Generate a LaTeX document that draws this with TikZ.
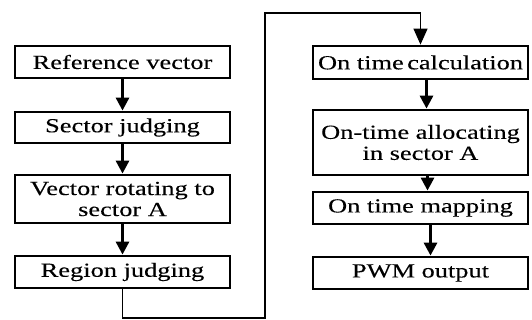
\documentclass[tikz,border=0pt]{standalone}
\usepackage{fontspec}
\setmainfont[FakeStretch=1.32,FakeBold=0.15]{Liberation Serif}
\usetikzlibrary{arrows.meta}
\begin{document}
\begin{tikzpicture}[x=1pt,y=-1pt,
  box/.style={draw, line width=2.8pt, minimum width=215pt, inner sep=0pt,
    align=center, font=\fontsize{20}{21}\selectfont},
  flow/.style={line width=3pt, -{Triangle[width=13pt,length=13pt]}},
  loopline/.style={line width=1.3pt, -{Triangle[width=14pt,length=16pt]}}]
\useasboundingbox (0,0) rectangle (532,320);
% left column
\node[box, minimum height=32pt] (ref) at (122.5,62) {Reference vector};
\node[box, minimum height=31pt] (sec) at (122.5,127.5) {Sector judging};
\node[box, minimum height=48pt] (rot) at (122.5,199) {Vector rotating to\\sector A};
\node[box, minimum height=32pt] (reg) at (122.5,272) {Region judging};
% right column
\node[box, minimum height=33pt] (calc) at (420.5,62.5) {On time\,calculation};
\node[box, minimum height=65pt] (alloc) at (420.5,142.5) {On-time allocating\\in sector A};
\node[box, minimum height=32pt] (map) at (420.5,208) {On time mapping};
\node[box, minimum height=32pt] (pwm) at (420.5,273) {PWM output};
% arrows
\draw[flow] (ref) -- (sec);
\draw[flow] (sec) -- (rot);
\draw[flow] (rot) -- (reg);
\draw[flow] ([xshift=6pt]calc.south) -- ([xshift=6pt]alloc.north);
\draw[flow] ([xshift=7pt]alloc.south) -- ([xshift=7pt]map.north);
\draw[flow] ([xshift=10pt]map.south) -- ([xshift=10pt]pwm.north);
% loop connector
\coordinate (c1) at (265,318);
\coordinate (c2) at (265,13);
\draw[loopline] (reg.south) |- (c1) -- (c2) -| (calc.north);
\end{tikzpicture}
\end{document}
